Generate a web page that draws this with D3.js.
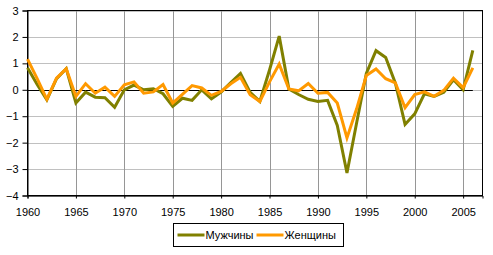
<!DOCTYPE html>
<html>
<head>
<meta charset="utf-8">
<script src="https://cdn.jsdelivr.net/npm/d3@7"></script>
<style>
  body { margin: 0; background: #fff; }
  text { font-family: "Liberation Sans", Arial, sans-serif; font-size: 11px; fill: #000; }
</style>
</head>
<body>
<div id="chart"></div>
<script>
const years = d3.range(1960, 2007);
const men = [0.83, 0.2, -0.38, 0.42, 0.8, -0.5, -0.09, -0.28, -0.3, -0.66,
  0.0, 0.18, 0.0, 0.04, -0.15, -0.63, -0.32, -0.4, 0.0, -0.34,
  -0.09, 0.27, 0.62, -0.1, -0.44, 0.75, 2.03, 0.03, -0.18, -0.36,
  -0.44, -0.4, -1.35, -3.15, -1.25, 0.62, 1.48, 1.22, 0.25, -1.31,
  -0.91, -0.15, -0.25, -0.09, 0.38, 0.0, 1.49];
const women = [1.16, 0.42, -0.36, 0.44, 0.8, -0.25, 0.23, -0.13, 0.1, -0.25,
  0.19, 0.3, -0.13, -0.08, 0.2, -0.5, -0.17, 0.16, 0.07, -0.21,
  -0.06, 0.23, 0.47, -0.19, -0.44, 0.3, 0.97, 0.03, -0.04, 0.24,
  -0.13, -0.1, -0.5, -1.82, -0.72, 0.54, 0.79, 0.42, 0.26, -0.68,
  -0.18, -0.08, -0.25, -0.02, 0.44, 0.08, 0.83];
const yTicks = [-4, -3, -2, -1, 0, 1, 2, 3];
const xTicks = [1960, 1965, 1970, 1975, 1980, 1985, 1990, 1995, 2000, 2005];
const seriesNames = ["Мужчины", "Женщины"];
const seriesColors = ["#808000", "#ff9900"];

const width = 493, height = 255;
const plotLeft = 27.5, plotRight = 482.5, plotTop = 10.5, plotBottom = 195.5;

const x = d3.scaleLinear().domain([1960, 2007]).range([plotLeft, plotRight]);
const y = d3.scaleLinear().domain([-4, 3]).range([plotBottom, plotTop]);

const svg = d3.select("#chart").append("svg")
  .attr("width", width).attr("height", height);

// gridlines
svg.append("g").selectAll("line").data(yTicks).join("line")
  .attr("x1", plotLeft).attr("x2", plotRight)
  .attr("y1", d => Math.round(y(d)) + 0.5).attr("y2", d => Math.round(y(d)) + 0.5)
  .attr("stroke", "#c0c0c0");
svg.append("g").selectAll("line").data(xTicks.slice(1)).join("line")
  .attr("x1", d => Math.round(x(d)) + 0.5).attr("x2", d => Math.round(x(d)) + 0.5)
  .attr("y1", plotTop).attr("y2", plotBottom)
  .attr("stroke", "#969696");

// border
svg.append("rect")
  .attr("x", plotLeft).attr("y", plotTop)
  .attr("width", plotRight - plotLeft).attr("height", plotBottom - plotTop)
  .attr("fill", "none").attr("stroke", "#000");

// axes
const yAxis = svg.append("g")
  .attr("transform", `translate(${plotLeft},0)`)
  .call(d3.axisLeft(y).tickValues(yTicks).tickSize(5).tickPadding(4).tickFormat(d3.format("d")));
const xAxis = svg.append("g")
  .attr("transform", `translate(0,${plotBottom})`)
  .call(d3.axisBottom(x).tickValues(xTicks).tickSize(3).tickPadding(10).tickFormat(d3.format("d")));
[yAxis, xAxis].forEach(a => {
  a.select(".domain").attr("stroke", "#000");
  a.selectAll(".tick line").attr("stroke", "#000");
  a.selectAll("text").attr("font-family", "Liberation Sans, Arial, sans-serif").attr("font-size", 11).attr("fill", "#000");
});

// zero line
svg.append("line")
  .attr("x1", x(1960)).attr("x2", x(2006))
  .attr("y1", Math.round(y(0)) + 0.5).attr("y2", Math.round(y(0)) + 0.5)
  .attr("stroke", "#000");

const line = d3.line().x((d, i) => x(years[i])).y(d => y(d));
[men, women].forEach((s, i) => {
  svg.append("path").datum(s)
    .attr("fill", "none")
    .attr("stroke", seriesColors[i])
    .attr("stroke-width", 3)
    .attr("stroke-linejoin", "miter")
    .attr("d", line);
});

// legend
const lg = svg.append("g").attr("transform", "translate(173.5,223.5)");
lg.append("rect").attr("width", 170).attr("height", 23)
  .attr("fill", "#fff").attr("stroke", "#000");
const offsets = [4, 83];
seriesNames.forEach((n, i) => {
  lg.append("line")
    .attr("x1", offsets[i]).attr("x2", offsets[i] + 27)
    .attr("y1", 11.5).attr("y2", 11.5)
    .attr("stroke", seriesColors[i]).attr("stroke-width", 3);
  lg.append("text")
    .attr("x", offsets[i] + 28).attr("y", 15.5)
    .text(n);
});
</script>
</body>
</html>
